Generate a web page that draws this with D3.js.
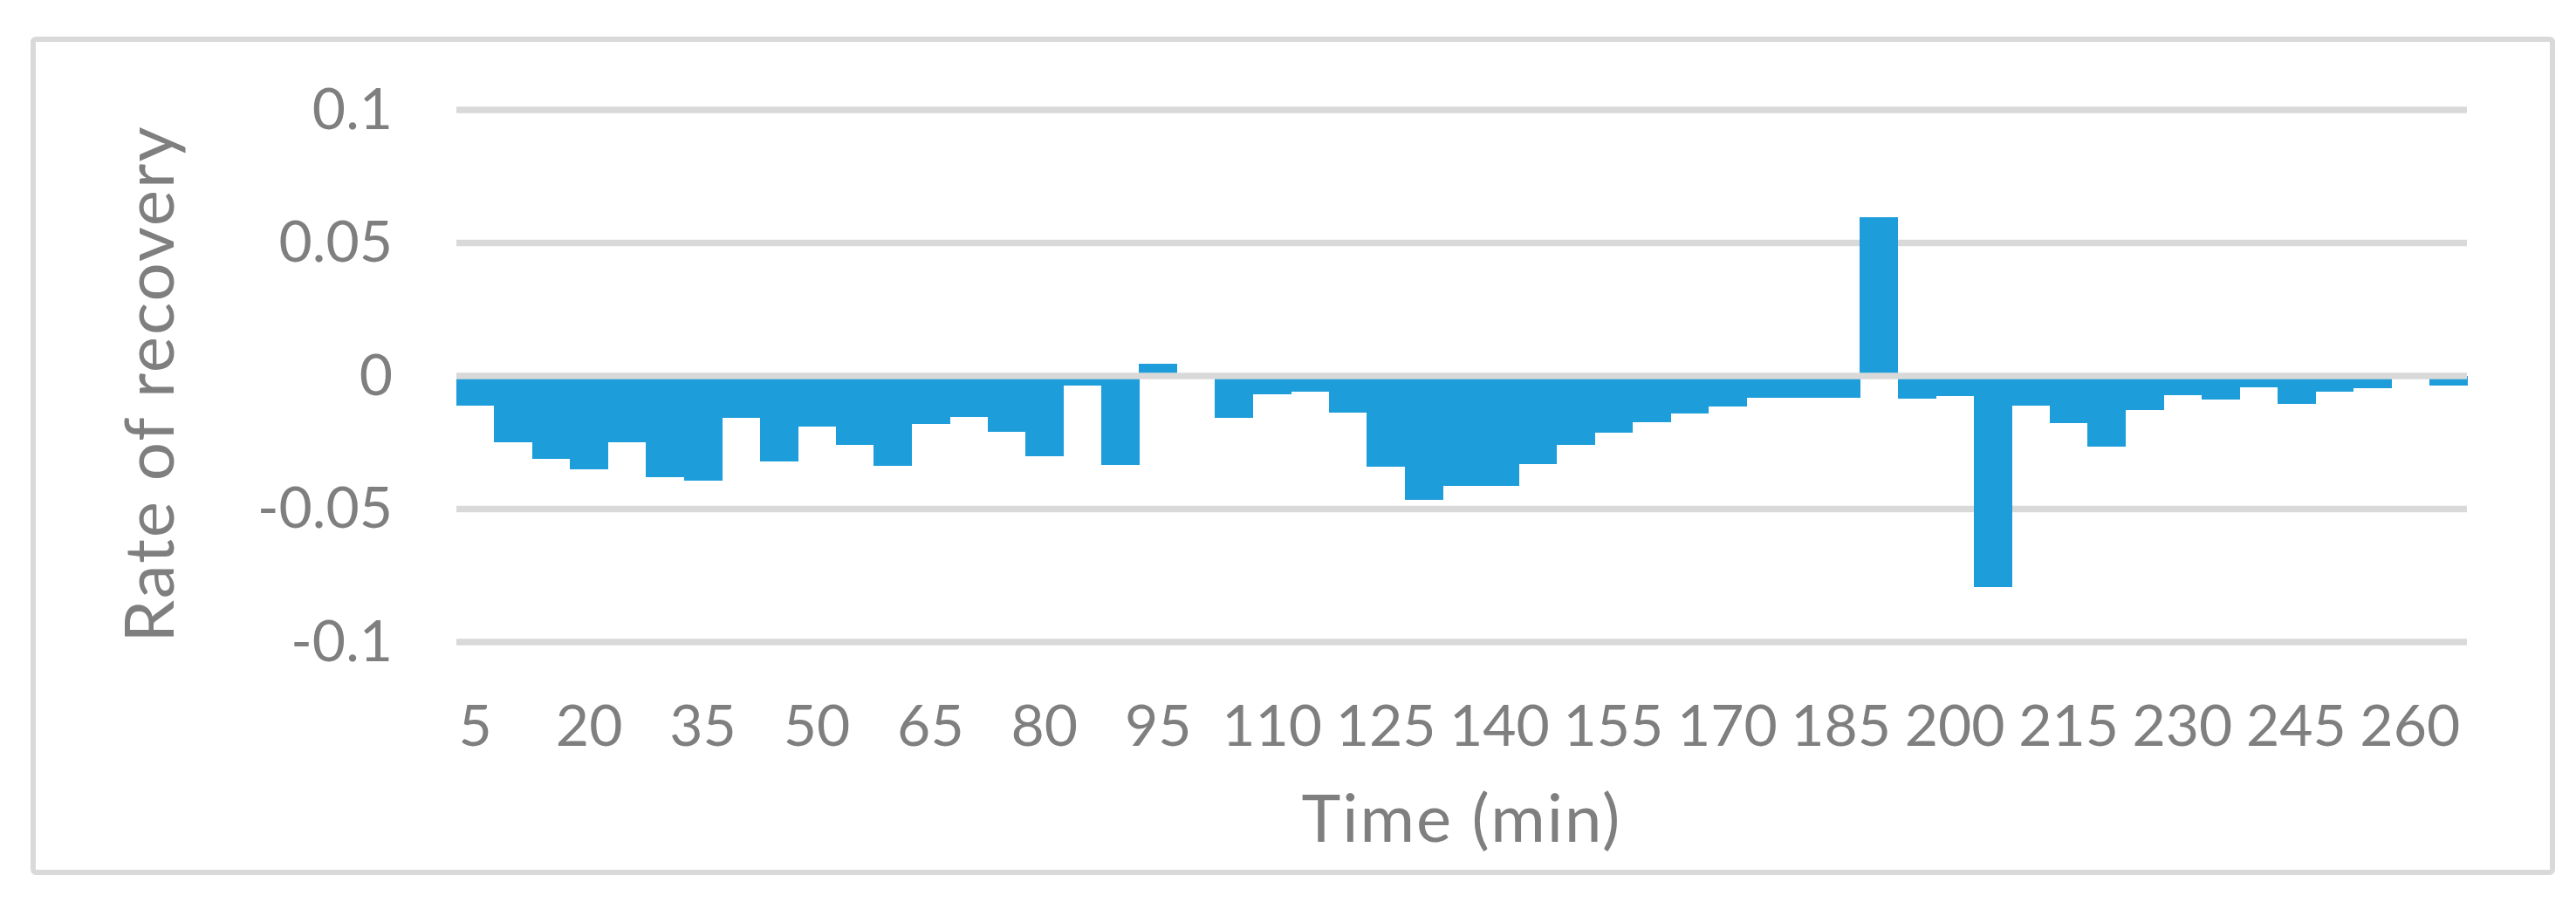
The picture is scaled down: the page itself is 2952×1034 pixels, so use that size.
<!DOCTYPE html>
<html>
<head>
<meta charset="utf-8">
<script src="https://cdn.jsdelivr.net/npm/d3@7"></script>
<style>
	body { margin: 0; background: #ffffff; }
	text { font-family: Lato, "Open Sans", sans-serif; fill: #7f7f7f; }
</style>
</head>
<body>
<div id="chart01"></div>
<script>
// Time points (min)
var times = [5, 10, 15, 20, 25, 30, 35, 40, 45, 50, 55, 60, 65, 70, 75, 80, 85, 90,
	95, 100, 105, 110, 115, 120, 125, 130, 135, 140, 145, 150, 155, 160, 165, 170,
	175, 180, 185, 190, 195, 200, 205, 210, 215, 220, 225, 230, 235, 240, 245, 250,
	255, 260, 265];

// Rate of recovery
var rates = [-0.011, -0.025, -0.031, -0.035, -0.025, -0.038, -0.0395, -0.0156, -0.032,
	-0.019, -0.026, -0.0337, -0.018, -0.0154, -0.021, -0.030, -0.0037, -0.0334,
	0.0045, 0, -0.0156, -0.0069, -0.006, -0.0139, -0.0341, -0.0467, -0.0413, -0.0413,
	-0.0332, -0.026, -0.0213, -0.0174, -0.0141, -0.0115, -0.0083, -0.0083, -0.0083,
	0.0596, -0.0086, -0.0076, -0.0793, -0.0111, -0.0178, -0.0266, -0.0129, -0.0073,
	-0.009, -0.0043, -0.0106, -0.006, -0.0046, 0, -0.0037];

// Axis ticks
var xTickLabels = [5, 20, 35, 50, 65, 80, 95, 110, 125, 140, 155, 170, 185, 200, 215, 230, 245, 260];
var yTicks = [-0.1, -0.05, 0, 0.05, 0.1];
var yTickLabels = ["-0.1", "-0.05", "0", "0.05", "0.1"];

var data = times.map((t, i) => ({ time: t, rate: rates[i] }));

var width = 2952;
var height = 1034;
var margin = { top: 126, right: 125, bottom: 298, left: 523 };
var gridColor = "#d9d9d9";

var svg = d3.select("#chart01").append("svg")
	.attr("width", width)
	.attr("height", height);

// Chart frame
svg.append("rect")
	.attr("x", 38)
	.attr("y", 45)
	.attr("width", 2887)
	.attr("height", 955)
	.attr("rx", 3)
	.attr("fill", "#ffffff")
	.attr("stroke", gridColor)
	.attr("stroke-width", 6);

var x = d3.scaleBand()
	.domain(times)
	.range([margin.left, width - margin.right])
	.padding(0);

var y = d3.scaleLinear()
	.domain([-0.1, 0.1])
	.range([height - margin.bottom, margin.top]);

// Gridlines
svg.append("g")
	.selectAll("line")
	.data(yTicks.filter((d) => d !== 0))
	.join("line")
	.attr("x1", margin.left)
	.attr("x2", width - margin.right)
	.attr("y1", (d) => y(d))
	.attr("y2", (d) => y(d))
	.attr("stroke", gridColor)
	.attr("stroke-width", 7.5);

// Bars (crisp edges so neighbours touch without seams)
svg.append("g")
	.attr("shape-rendering", "crispEdges")
	.selectAll("rect")
	.data(data)
	.join("rect")
	.attr("x", (d) => x(d.time))
	.attr("y", (d) => y(Math.max(0, d.rate)))
	.attr("width", x.bandwidth() + 0.5)
	.attr("height", (d) => Math.abs(y(d.rate) - y(0)))
	.attr("fill", "#1d9dd9");

// Zero line sits on top of the bars
svg.append("line")
	.attr("x1", margin.left)
	.attr("x2", width - margin.right)
	.attr("y1", y(0))
	.attr("y2", y(0))
	.attr("stroke", gridColor)
	.attr("stroke-width", 7.5);

// Y-axis
var yAxis = svg.append("g")
	.attr("transform", `translate(${margin.left}, 0)`)
	.call(d3.axisLeft(y)
		.tickValues(yTicks)
		.tickFormat((d, i) => yTickLabels[i])
		.tickSize(0)
		.tickPadding(73));
yAxis.select(".domain").remove();
yAxis.selectAll("text")
	.style("font-size", "66px")
	.attr("fill", "#7f7f7f");

// X-axis at the bottom of the plot
var xAxis = svg.append("g")
	.attr("transform", `translate(0, ${height - margin.bottom})`)
	.call(d3.axisBottom(x)
		.tickValues(xTickLabels)
		.tickSize(0)
		.tickPadding(72));
xAxis.select(".domain").remove();
xAxis.selectAll("text")
	.style("font-size", "66px")
	.attr("fill", "#7f7f7f");

// Axis titles
svg.append("text")
	.attr("x", (margin.left + width - margin.right) / 2)
	.attr("y", 965)
	.attr("text-anchor", "middle")
	.attr("font-size", "76px")
	.attr("letter-spacing", "2px")
	.text("Time (min)");

svg.append("text")
	.attr("transform", `translate(199, 440) rotate(-90)`)
	.attr("text-anchor", "middle")
	.attr("font-size", "78px")
	.attr("letter-spacing", "2px")
	.text("Rate of recovery");
</script>
</body>
</html>
